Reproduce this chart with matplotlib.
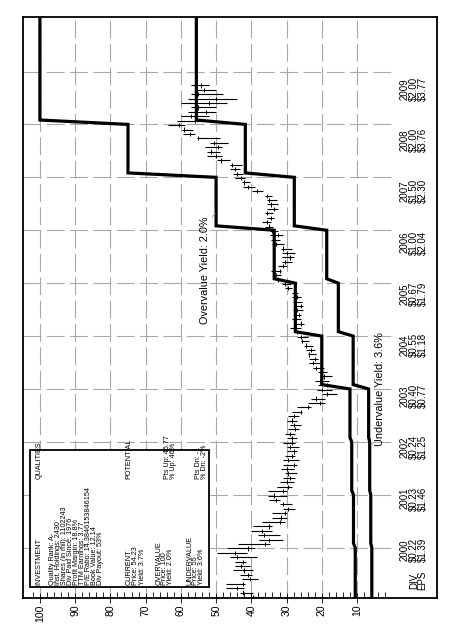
import matplotlib
matplotlib.use("Agg")
import matplotlib.pyplot as plt
from matplotlib.patches import Rectangle

plt.rcParams['font.family'] = ['Liberation Sans', 'DejaVu Sans']

# --- data ---
years = [2000, 2001, 2002, 2003, 2004, 2005, 2006, 2007, 2008, 2009]
div_labels = ["$0.22", "$0.23", "$0.24", "$0.40", "$0.55", "$0.67", "$1.00", "$1.50", "$2.00", "$2.00"]
eps_labels = ["$1.39", "$1.46", "$1.25", "$0.77", "$1.18", "$1.79", "$2.04", "$2.30", "$3.76", "$3.77"]

# value lines per calendar year (1999 .. 2009)
line_years = [1999, 2000, 2001, 2002, 2003, 2004, 2005, 2006, 2007, 2008, 2009]
overvalue = [10.5, 11.0, 11.5, 12.0, 20.0, 27.5, 33.5, 50.0, 75.0, 100.0, 100.0]
undervalue = [5.8, 6.1, 6.4, 6.7, 11.1, 15.3, 18.6, 27.8, 41.7, 55.6, 55.6]

# monthly price bars (low, high, close), first bar early 1999
bar_start = 1999.07
lows = [36.1, 39.5, 42.1, 41.8, 38.1, 39.9, 39.5, 40.5, 41.5, 38.5, 41.2, 39.0,
        34.7, 31.0, 32.0, 34.0, 34.0, 30.5, 30.0, 30.0, 27.7, 28.5, 32.0, 30.0,
        30.0, 28.4, 28.0, 27.5, 27.0, 28.0, 27.0, 26.5, 27.5, 27.0, 26.5, 27.5,
        27.0, 27.5, 26.5, 26.0, 27.0, 26.5, 25.5, 23.0, 19.0, 19.0, 15.7, 17.0,
        17.5, 18.0, 17.0, 18.5, 19.5, 20.5, 21.0, 21.5, 22.0, 22.5, 23.5, 24.0,
        25.5, 26.0, 25.0, 26.0, 26.0, 25.3, 25.3, 25.6, 26.0, 26.8, 28.4, 28.8,
        31.5, 31.5, 31.5, 30.0, 28.5, 28.0, 27.6, 28.5, 30.7, 32.0, 31.0, 32.4,
        33.8, 34.5, 33.5, 33.8, 32.5, 32.5, 32.7, 34.1, 36.6, 39.0, 40.4, 41.8,
        42.4, 43.2, 42.7, 46.0, 48.3, 48.9, 48.3, 46.6, 48.9, 56.0, 56.5, 58.8,
        54.0, 52.0, 50.0, 50.0, 47.0, 44.0, 48.0, 50.0, 52.0]
highs = [40.4, 43.2, 47.2, 47.2, 42.7, 43.2, 45.2, 44.5, 44.5, 46.0, 49.6, 46.9,
         43.7, 37.8, 38.0, 40.0, 39.5, 37.0, 34.0, 34.0, 31.0, 31.8, 35.0, 35.3,
         35.4, 32.7, 32.0, 31.0, 30.5, 31.5, 31.0, 31.0, 30.5, 30.0, 30.0, 31.0,
         30.0, 30.5, 29.5, 29.0, 30.0, 29.5, 28.5, 27.0, 23.8, 23.0, 19.9, 21.3,
         21.0, 22.0, 20.5, 21.0, 22.5, 23.5, 23.5, 24.0, 24.5, 25.0, 26.0, 27.0,
         28.0, 29.0, 28.0, 28.5, 28.0, 28.1, 27.7, 28.2, 28.5, 28.4, 30.3, 31.2,
         33.7, 33.7, 34.5, 32.5, 31.2, 31.2, 31.2, 31.5, 34.0, 34.5, 34.7, 34.7,
         36.0, 37.0, 35.5, 36.1, 35.5, 35.5, 35.5, 36.1, 39.8, 42.4, 42.6, 44.6,
         45.2, 46.0, 46.0, 49.6, 52.5, 52.5, 53.2, 51.8, 55.5, 59.5, 59.7, 63.7,
         61.0, 60.0, 58.0, 57.0, 60.0, 58.0, 57.0, 56.0, 57.0]
closes = [39.5, 42.5, 44.0, 42.5, 40.5, 41.0, 42.0, 43.0, 42.5, 44.0, 44.5, 41.0,
          36.0, 35.0, 36.5, 37.0, 35.0, 32.0, 31.5, 30.5, 29.5, 31.0, 33.0, 33.5,
          31.0, 29.5, 30.0, 29.0, 29.5, 30.0, 28.0, 29.5, 28.5, 28.0, 29.0, 28.5,
          28.5, 29.0, 27.5, 28.0, 28.5, 28.0, 26.0, 24.0, 20.5, 21.5, 18.5, 20.0,
          18.5, 20.5, 19.5, 20.0, 21.5, 22.5, 22.0, 23.5, 23.0, 24.5, 25.5, 26.0,
          27.0, 27.5, 26.0, 27.5, 26.5, 27.0, 26.0, 27.5, 27.0, 28.0, 29.5, 30.5,
          32.5, 33.0, 32.0, 31.0, 30.5, 29.0, 30.0, 31.0, 33.0, 33.5, 32.5, 34.0,
          35.0, 35.5, 34.5, 35.5, 33.5, 34.5, 35.0, 35.5, 38.5, 41.0, 42.0, 43.0,
          44.0, 44.5, 45.5, 48.5, 50.0, 51.5, 49.5, 50.5, 55.0, 57.5, 59.0, 60.5,
          56.0, 57.0, 53.0, 55.0, 52.0, 50.0, 55.0, 53.5, 54.2]

price_ticks = [10, 20, 30, 40, 50, 60, 70, 80, 90, 100]

info_left = [
    (100.6, "INVESTMENT"),
    (96.6, "Quality Rank: A-"),
    (95.0, "Inst. Holdings: 2430"),
    (93.3, "Shares (in mil): 1102243"),
    (91.6, "Div Paid Since: 1976"),
    (89.9, "Profit Margin: 18.8%"),
    (88.2, "TTM Earnings: 3.77"),
    (86.5, "P/E Ratio: 14.3846153846154"),
    (84.8, "Book Value: 12.14"),
    (83.1, "Div Payout: 53%"),
    (75.0, "CURRENT"),
    (73.1, "Price: 54.23"),
    (71.3, "Yield: 3.7%"),
    (66.5, "OVERVALUE"),
    (64.8, "Price: 100"),
    (63.2, "Yield: 2.0%"),
    (57.7, "UNDERVALUE"),
    (56.0, "Price: 55"),
    (54.4, "Yield: 3.6%"),
]
info_right = [
    (100.6, "QUALITIES"),
    (75.0, "POTENTIAL"),
    (64.0, "Pts Up: 45.77"),
    (62.4, "% Up: 46%"),
    (55.2, "Pts Dn: -1"),
    (53.6, "% Dn: -2%"),
]

# --- figure (chart drawn rotated: price runs right-to-left, time bottom-to-top) ---
fig = plt.figure(figsize=(4.49, 6.27), dpi=100)
ax = fig.add_axes([23 / 449, 1 - 598 / 627, 414 / 449, 581 / 627])
ax.set_xlim(104.8, -12.7)
ax.set_ylim(1999.05, 2010.03)

grid_kw = dict(color="#a8a8a8", linewidth=0.8, linestyle=(0, (16, 5)), zorder=1)
for p in price_ticks:
    ax.axvline(p, **grid_kw)
for y in years:
    ax.plot([104.8, -0.8], [y, y], **grid_kw)

# value lines with a one-month ramp at each year change
def step_points(vals):
    ts, vs = [1999.05], [vals[0]]
    for i in range(1, len(vals)):
        ts += [line_years[i], line_years[i] + 1 / 12]
        vs += [vals[i - 1], vals[i]]
    ts.append(2010.03)
    vs.append(vals[-1])
    return ts, vs

t_o, v_o = step_points(overvalue)
t_u, v_u = step_points(undervalue)
ax.plot(v_o, t_o, color="black", linewidth=2.3, zorder=4, solid_joinstyle="miter")
ax.plot(v_u, t_u, color="black", linewidth=2.3, zorder=4, solid_joinstyle="miter")

# monthly price bars with a small close tick
bar_t = [bar_start + k / 12 for k in range(len(lows))]
ax.hlines(bar_t, lows, highs, color="black", linewidth=0.8, zorder=3)
ax.vlines(closes, [t - 0.04 for t in bar_t], [t + 0.04 for t in bar_t],
          color="black", linewidth=0.7, zorder=3)

# year / dividend / earnings labels
lab_fs = 7.0
for i, yr in enumerate(years):
    ty = 1999.96 + 0.9677 * i
    for px, s in [(-3.35, str(yr)), (-5.9, div_labels[i]), (-8.3, eps_labels[i])]:
        ax.text(px, ty, s, rotation=90, rotation_mode="anchor", ha="center",
                va="center_baseline", fontsize=lab_fs)
ax.text(-5.9, 1999.376, "DIV", rotation=90, rotation_mode="anchor", ha="center",
        va="center_baseline", fontsize=lab_fs)
ax.text(-8.3, 1999.376, "EPS", rotation=90, rotation_mode="anchor", ha="center",
        va="center_baseline", fontsize=lab_fs)

# yield annotations
ax.text(53.2, 2005.24, "Overvalue Yield: 2.0%", rotation=90, rotation_mode="anchor",
        ha="center", va="center", fontsize=7.8, zorder=5)
ax.plot([51.2, 50.3], [2006.24, 2006.32], color="#999999", linewidth=0.6, zorder=5)
ax.text(3.5, 2003.0, "Undervalue Yield: 3.6%", rotation=90, rotation_mode="anchor",
        ha="center", va="center", fontsize=7.8, zorder=5)
ax.plot([4.9, 6.0], [2002.02, 2001.94], color="#999999", linewidth=0.6, zorder=5)

# info box
ax.add_patch(Rectangle((52.0, 1999.263), 50.8, 2.59, facecolor="white",
                       edgecolor="black", linewidth=1.3, zorder=6))
for px, s in info_left:
    ax.text(px, 1999.30, s, rotation=90, rotation_mode="anchor", ha="left",
            va="center_baseline", fontsize=5.2, zorder=7)
for px, s in info_right:
    ax.text(px, 2001.30, s, rotation=90, rotation_mode="anchor", ha="left",
            va="center_baseline", fontsize=5.2, zorder=7)

# axes styling
ax.set_xticks(price_ticks)
ax.set_xticklabels([str(p) for p in price_ticks], rotation=90, fontsize=7.5)
ax.set_xticks(range(2, 104, 2), minor=True)
ax.tick_params(axis="x", which="major", direction="inout", length=7, width=0.6, pad=1)
ax.tick_params(axis="x", which="minor", direction="in", length=4, width=0.6)
ax.set_yticks([])
for sp in ax.spines.values():
    sp.set_linewidth(1.3)

fig.savefig("out.png", dpi=100)
